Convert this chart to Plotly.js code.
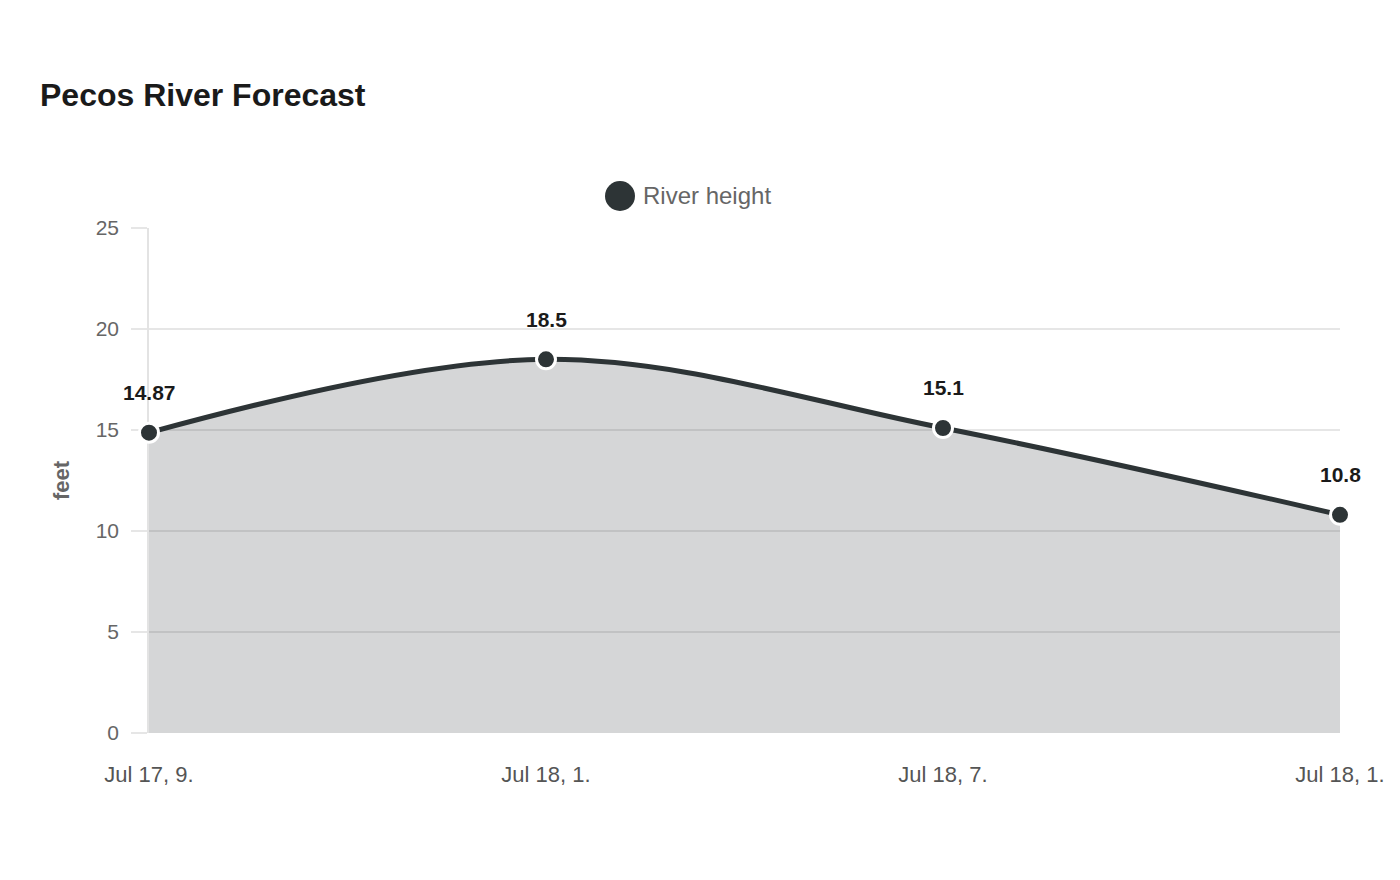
<!DOCTYPE html>
<html>
<head>
<meta charset="utf-8">
<script src="https://cdn.plot.ly/plotly-3.0.1.min.js"></script>
<style>
  html, body { margin: 0; padding: 0; background: #fff; }
  #chart { width: 1400px; height: 880px; }
</style>
</head>
<body>
<div id="chart"></div>
<script>
const categories = ["Jul 17, 9.", "Jul 18, 1.", "Jul 18, 7.", "Jul 18, 1."];
const riverHeight = [14.87, 18.5, 15.1, 10.8];
const seriesName = "River height";
const yTicks = [0, 5, 10, 15, 20, 25];

const xIdx = categories.map((_, i) => i);
const lineColor = "#2d3436";
const FONT = "Liberation Sans, Arial, sans-serif";

const trace = {
  x: xIdx,
  y: riverHeight,
  name: seriesName,
  type: "scatter",
  mode: "lines+markers",
  line: { color: lineColor, width: 5, shape: "spline", smoothing: 1 },
  fill: "tozeroy",
  fillcolor: "rgba(45,52,54,0.2)",
  marker: { color: lineColor, size: 19, line: { color: "#ffffff", width: 3 } },
  cliponaxis: false,
  showlegend: false,
  hoverinfo: "x+y"
};

const annotations = riverHeight.map((v, i) => ({
  x: xIdx[i], y: v, xref: "x", yref: "y",
  text: String(v), showarrow: false,
  yshift: 40, yanchor: "middle", xanchor: "center",
  font: { family: FONT, size: 21, color: "#1a1a1a", weight: "bold" }
}));

// manual legend
annotations.push({
  xref: "paper", yref: "paper", x: (641 - 149) / 1191, y: (733 - 196) / 505,
  xanchor: "left", yanchor: "middle", showarrow: false,
  text: seriesName, font: { family: FONT, size: 24, color: "#666666" }
});

const layout = {
  width: 1400, height: 880,
  paper_bgcolor: "#ffffff", plot_bgcolor: "#ffffff",
  margin: { l: 149, r: 60, t: 228, b: 147, pad: 0 },
  font: { family: FONT, color: "#666666" },
  title: {
    text: "<b>Pecos River Forecast</b>",
    xref: "container", yref: "container",
    x: 40 / 1400, xanchor: "left",
    y: 1 - 95 / 880, yanchor: "middle",
    font: { family: FONT, size: 32, color: "#1a1a1a" }
  },
  showlegend: false,
  xaxis: {
    range: [0, 3],
    tickvals: xIdx, ticktext: categories,
    showgrid: false, zeroline: false, showline: false,
    ticks: "", ticklabelstandoff: 26,
    tickfont: { family: FONT, size: 22, color: "#555555" },
    layer: "below traces",
    fixedrange: true
  },
  yaxis: {
    range: [0, 25],
    tickvals: yTicks,
    showgrid: true, gridcolor: "#e6e6e6", gridwidth: 1.5,
    zeroline: false,
    showline: true, linecolor: "#e3e3e3", linewidth: 1.5,
    ticks: "outside", ticklen: 16, tickcolor: "#e6e6e6", tickwidth: 1.5,
    ticklabelstandoff: 8,
    tickfont: { family: FONT, size: 21, color: "#666666" },
    title: { text: "<b>feet</b>", standoff: 20, font: { family: FONT, size: 22, color: "#666666" } },
    layer: "below traces",
    fixedrange: true
  },
  shapes: [{
    type: "circle", xref: "paper", yref: "paper",
    xsizemode: "pixel", ysizemode: "pixel",
    xanchor: (620 - 149) / 1191, yanchor: (733 - 196) / 505,
    x0: -15, x1: 15, y0: -15, y1: 15,
    fillcolor: lineColor, line: { width: 0 }
  }],
  annotations: annotations
};

Plotly.newPlot("chart", [trace], layout, { displayModeBar: false, responsive: false });
</script>
</body>
</html>
